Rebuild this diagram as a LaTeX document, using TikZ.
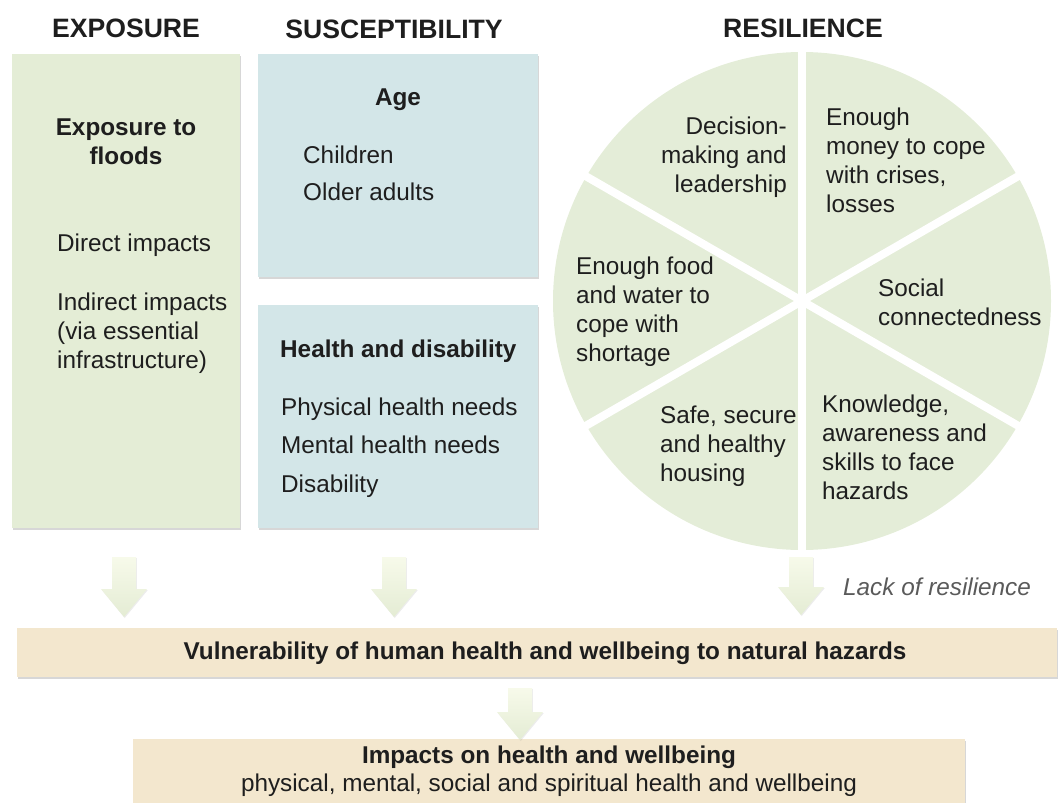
\documentclass[tikz,border=0pt]{standalone}
\usepackage{fontspec}
\setmainfont{Liberation Sans}
\usetikzlibrary{calc,shadows}

\definecolor{expgreen}{RGB}{228,237,214}
\definecolor{agecyan}{RGB}{211,230,232}
\definecolor{vulnbeige}{RGB}{243,231,206}
\definecolor{piegreen}{RGB}{228,237,216}
\definecolor{arrowtop}{RGB}{247,250,234}
\definecolor{arrowbot}{RGB}{228,236,212}
\definecolor{inktext}{RGB}{30,30,30}
\definecolor{lackgrey}{RGB}{90,90,90}

\newcommand{\bodyfont}{\fontsize{24.3}{29}\selectfont}
\newcommand{\titlefont}{\fontsize{26.6}{31}\selectfont\bfseries}

\begin{document}
\begin{tikzpicture}
	[
	 x = 1pt, y = -1pt,
	 every node/.style = {inner sep = 0pt,
	                      text = inktext,
	                      font = \bodyfont
	                     },
	 panel/.style = {rectangle,
	                 draw = none,
	                 anchor = north west,
	                 drop shadow = {shadow xshift = 1.2pt,
	                                shadow yshift = -1.6pt,
	                                opacity = .35,
	                                fill = black!45}
	                },
	 head/.style   = {font = \titlefont, anchor = base},
	 txt/.style    = {align = left, anchor = base west},
	 txtr/.style   = {align = right, anchor = base east},
	 bold/.style   = {font = \bodyfont\bfseries},
	 gap/.style    = {draw = white, line width = 8pt},
	 arrowfill/.style = {top color = arrowtop,
	                     bottom color = arrowbot,
	                     drop shadow = {shadow xshift = .8pt,
	                                    shadow yshift = -1pt,
	                                    opacity = .15}}
	]

	\useasboundingbox (0,0) rectangle (1061,803);

	\newcommand{\fatarrow}[3]{%
		\path[arrowfill] (#1-12,#2) -- (#1+12,#2) -- (#1+12,#3-28)
		   -- (#1+23,#3-28) -- (#1,#3) -- (#1-23,#3-28) -- (#1-12,#3-28) -- cycle;}

	% column titles
	\node[head] (tExp) at (126,37) {EXPOSURE};
	\node[head] (tSus) at (394,38) {SUSCEPTIBILITY};
	\node[head] (tRes) at (803,37) {RESILIENCE};

	% exposure (multi-line nodes sit on their last baseline)
	\node[panel, fill = expgreen, minimum width = 228, minimum height = 474] (expo) at (12,54) {};
	\node[bold, align = center, anchor = base] (floods) at (126,164) {Exposure to\\floods};
	\node[txt] (direct) at (57,251) {Direct impacts};
	\node[txt] (indirect) at (57,368) {Indirect impacts\\(via essential\\infrastructure)};

	% susceptibility
	\node[panel, fill = agecyan, minimum width = 280, minimum height = 223] (age) at (258,54) {};
	\node[bold, anchor = base] (ageT) at (398,105) {Age};
	\node[txt] (kids) at (303,163) {Children};
	\node[txt] (older) at (303,200) {Older adults};

	\node[panel, fill = agecyan, minimum width = 280, minimum height = 223] (health) at (258,305) {};
	\node[bold, anchor = base west] (healthT) at (280,357) {Health and disability};
	\node[txt] (phys) at (281,415) {Physical health needs};
	\node[txt] (ment) at (281,453) {Mental health needs};
	\node[txt] (dis) at (281,492) {Disability};

	% resilience wheel
	\coordinate (pie) at (802,301);
	\fill[piegreen] (pie) circle (249pt);
	\foreach \a in {30,90,150}
		\draw[gap] ($(pie)+(\a:252pt)$) -- ($(pie)+(\a+180:252pt)$);

	\node[txtr] (decide) at (787,192) {Decision-\\making and\\leadership};
	\node[txt] (money) at (826,212) {Enough\\money to cope\\with crises,\\losses};
	\node[txt] (food) at (576,361) {Enough food\\and water to\\cope with\\shortage};
	\node[txt] (social) at (878,325) {Social\\connectedness};
	\node[txt] (safe) at (660,481) {Safe, secure\\and healthy\\housing};
	\node[txt] (skills) at (822,499) {Knowledge,\\awareness and\\skills to face\\hazards};

	% outcome boxes
	\node[panel, fill = vulnbeige, minimum width = 1040, minimum height = 49] (vuln) at (17,628) {};
	\node[bold, anchor = base] (vulnT) at (545,659)
		{Vulnerability of human health and wellbeing to natural hazards};

	\node[panel, fill = vulnbeige, minimum width = 832, minimum height = 80] (imp) at (133,739) {};
	\node[bold, anchor = base] (impT) at (549,763) {Impacts on health and wellbeing};
	\node[anchor = base] (impS) at (549,791)
		{physical, mental, social and spiritual health and wellbeing};

	% arrows
	\fatarrow{124}{557}{617}
	\fatarrow{394}{557}{617}
	\fatarrow{801}{557}{615}
	\fatarrow{520}{688}{740}
	\node[txt, font = \bodyfont\itshape, text = lackgrey] (lack) at (843,595) {Lack of resilience};
\end{tikzpicture}
\end{document}
